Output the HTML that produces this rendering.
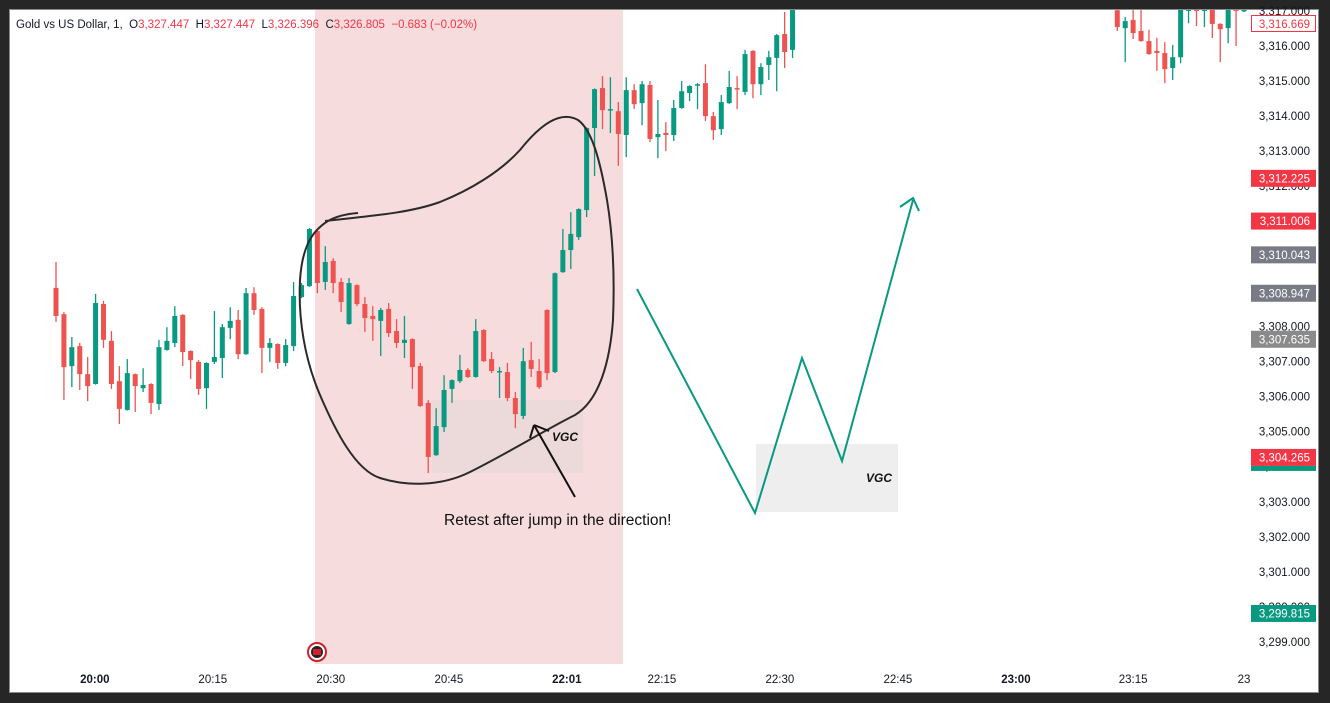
<!DOCTYPE html>
<html><head><meta charset="utf-8">
<style>
html,body{margin:0;padding:0;background:#262626;}
#wrap{position:relative;width:1330px;height:703px;background:#262626;overflow:hidden;font-family:"Liberation Sans",sans-serif;}
svg{position:absolute;left:0;top:0;}
</style></head>
<body>
<div id="wrap">
<svg id="chart" width="1330" height="703"></svg>
</div>
<script>
// ---- data ----
const seg1Open  = [3309.10,3308.35,3306.87,3307.44,3306.64,3306.36,3308.64,3307.59,3306.44,3305.62,3306.64,3306.24,3306.36,3305.79,3307.33,3307.53,3308.33,3307.30,3306.99,3306.24,3306.99,3307.10,3307.96,3308.19,3307.21,3308.95,3308.50,3307.39,3307.50,3306.96,3307.44,3308.84,3309.15,3310.72,3309.27,3309.87,3309.27,3308.07,3309.18,3308.64,3308.30,3308.16,3308.50,3307.87,3307.53,3307.64,3306.87,3305.82,3304.33,3305.13,3306.22,3306.44,3306.76,3306.56,3307.90,3307.07,3306.70,3306.70,3305.96,3305.45,3307.04,3306.73,3308.47,3306.70,3309.55,3310.18,3310.55,3311.32,3313.66,3314.80,3314.17,3314.14,3313.46,3314.74,3314.37,3314.89,3313.40,3313.52,3313.46,3314.23,3314.66,3314.89,3314.94,3314.00,3313.63,3314.37,3314.80,3314.69,3315.86,3314.91,3315.46,3315.66,3316.34,3315.89];
const seg1High  = [3309.84,3308.41,3307.70,3307.53,3307.13,3308.93,3308.73,3307.87,3306.87,3307.07,3306.66,3306.81,3306.38,3307.62,3307.98,3308.58,3308.35,3307.32,3307.04,3306.98,3308.44,3308.07,3308.55,3308.47,3309.10,3309.12,3308.55,3307.67,3307.52,3307.64,3309.27,3309.24,3310.81,3310.78,3310.29,3309.95,3309.38,3309.38,3309.20,3308.84,3308.58,3308.53,3308.67,3308.21,3308.30,3307.66,3306.96,3305.90,3305.67,3306.61,3306.49,3307.19,3306.81,3308.21,3307.92,3307.27,3306.84,3306.96,3306.13,3307.39,3307.56,3307.07,3308.49,3309.54,3310.78,3311.26,3311.37,3313.68,3314.79,3315.14,3315.11,3314.40,3315.11,3314.91,3315.00,3315.00,3314.46,3313.83,3314.46,3315.00,3314.88,3314.94,3315.48,3314.12,3314.60,3315.29,3315.14,3315.89,3315.88,3315.51,3315.86,3316.34,3316.97,3317.31];
const seg1Low   = [3308.13,3305.90,3306.27,3306.19,3305.87,3306.34,3307.39,3306.22,3305.22,3305.60,3305.56,3306.13,3305.50,3305.62,3307.31,3307.41,3306.87,3306.50,3306.05,3305.65,3306.93,3306.53,3307.64,3307.07,3307.19,3308.33,3306.67,3306.99,3306.79,3306.87,3307.30,3308.81,3309.13,3308.95,3309.04,3308.95,3308.41,3308.05,3308.58,3307.84,3307.59,3307.16,3307.70,3307.39,3307.10,3306.22,3305.71,3303.82,3304.31,3304.99,3305.82,3306.39,3306.53,3306.54,3306.99,3306.67,3305.96,3305.87,3305.10,3305.36,3306.56,3306.22,3306.47,3306.67,3309.53,3309.64,3310.47,3311.12,3312.29,3313.63,3313.52,3312.58,3312.83,3314.20,3313.74,3313.26,3312.80,3313.00,3313.29,3314.21,3314.43,3314.20,3313.86,3313.32,3313.46,3314.35,3314.20,3314.60,3314.51,3314.60,3315.03,3314.71,3315.37,3315.66];
const seg1Close = [3308.30,3306.84,3307.41,3306.64,3306.30,3308.67,3307.62,3306.36,3305.65,3306.67,3306.30,3306.33,3305.82,3307.41,3307.59,3308.30,3307.27,3307.04,3306.22,3306.96,3307.13,3307.98,3308.16,3307.21,3308.95,3308.47,3307.39,3307.53,3306.96,3307.47,3308.87,3309.18,3310.78,3309.24,3309.84,3309.24,3308.70,3309.24,3308.64,3308.24,3308.21,3308.47,3307.81,3307.53,3307.62,3306.84,3305.73,3304.28,3305.16,3306.19,3306.47,3306.76,3306.56,3307.87,3307.01,3306.73,3306.73,3305.96,3305.50,3307.01,3306.79,3306.27,3306.67,3309.52,3310.18,3310.64,3311.35,3313.66,3314.77,3314.17,3314.20,3313.49,3314.74,3314.34,3314.91,3313.35,3313.49,3313.46,3314.23,3314.71,3314.86,3314.91,3314.00,3313.60,3314.40,3314.83,3314.77,3315.77,3314.91,3315.40,3315.68,3316.31,3315.83,3317.17];
const seg2Start = 134;
const seg2Open  = [3317.02,3316.51,3316.74,3316.43,3316.14,3315.86,3315.80,3315.37,3315.68,3317.00,3317.05,3317.00,3317.10,3316.63,3316.51,3317.05,3317.00];
const seg2High  = [3317.30,3316.83,3317.30,3317.20,3316.46,3316.23,3316.11,3316.03,3317.20,3317.10,3317.10,3317.10,3317.30,3316.65,3317.30,3317.30,3317.06];
const seg2Low   = [3316.43,3315.54,3316.20,3316.12,3315.75,3315.29,3314.94,3315.03,3315.51,3316.65,3316.57,3316.54,3316.23,3315.54,3316.08,3316.00,3316.97];
const seg2Close = [3316.54,3316.71,3316.37,3316.14,3315.77,3315.80,3315.34,3315.68,3317.10,3317.05,3317.00,3317.05,3316.63,3316.48,3317.10,3317.00,3317.03];
const priceTicks = [3317,3316,3315,3314,3313,3312,3311,3310,3309,3308,3307,3306,3305,3304,3303,3302,3301,3300,3299];
const timeLabels = ["20:00","20:15","20:30","20:45","22:01","22:15","22:30","22:45","23:00","23:15","23"];
const timeIndex  = [4.9,19.8,34.7,49.6,64.5,76.5,91.4,106.3,121.2,136,150];
const timeBold   = [true,false,false,false,true,false,false,false,true,false,false];
const markerPrices = [3312.225,3311.006,3310.043,3308.947,3307.635,3304.265,3299.815];
const markerColors = ["#f23645","#f23645","#787b86","#787b86","#8a8a8a","#f23645","#089981"];

// ---- scales ----
const yOf = p => 46 + (3316 - p) * 35.06;
const xOf = i => 56 + i * 7.92;
const NS = "http://www.w3.org/2000/svg";
const svg = document.getElementById('chart');
function mk(tag, attrs, parent){const e=document.createElementNS(NS,tag);for(const k in attrs)e.setAttribute(k,attrs[k]);(parent||svg).appendChild(e);return e;}

const bg = mk('rect',{x:10,y:10,width:1308,height:682,fill:'#ffffff'});


mk('rect',{x:9.5,y:9.5,width:1309,height:683,fill:'none',stroke:'#8a8a8a','stroke-width':1});

const clipDef = mk('defs',{});
const cp = mk('clipPath',{id:'plotclip'},clipDef);
mk('rect',{x:10,y:10,width:1240,height:654},cp);

const hl = mk('rect',{x:315,y:10,width:308,height:654,fill:'#f7dcdd'});



const z1 = mk('rect',{x:432,y:400,width:151,height:73,fill:'#ecd9da'});


const z2 = mk('rect',{x:756,y:444,width:142,height:68,fill:'#eeeeee'});



const cg = mk('g',{'clip-path':'url(#plotclip)'});


function drawCandle(i,o,h,l,c){
  const x=xOf(i), up=c>=o, col=up?'#089981':'#ef5350';
  const g=mk('g',{},cg);
  
  
  mk('line',{x1:x,x2:x,y1:yOf(h),y2:yOf(l),stroke:col,'stroke-width':1.3},g);
  const top=yOf(Math.max(o,c)), bot=yOf(Math.min(o,c));
  mk('rect',{x:x-2.5,y:top,width:5,height:Math.max(1.5,bot-top),fill:col},g);
}
seg1Open.forEach((o,i)=>drawCandle(i,o,seg1High[i],seg1Low[i],seg1Close[i]));
seg2Open.forEach((o,i)=>drawCandle(seg2Start+i,o,seg2High[i],seg2Low[i],seg2Close[i]));

const blob = mk('path',{d:'M358,213 C345,214 335,217 328,221 C310,232 302,250 300,280 C298,320 305,360 320,395 C335,430 355,470 380,478 C405,486 440,487 470,472 C510,452 545,430 575,415 C600,400 610,360 613,320 C615,270 612,230 607,200 C600,160 592,130 578,120 C560,110 540,125 520,150 C500,172 470,190 440,202 C410,213 370,216 325,221',fill:'none',stroke:'#2a2a2a','stroke-width':2});


const arr = mk('path',{d:'M575,497 L534,425 M534,425 L530,438 M534,425 L549,431',fill:'none',stroke:'#111','stroke-width':2});


const zig = mk('polyline',{points:'637,289 755,513 802,358 842,461 913,200',fill:'none',stroke:'#089981','stroke-width':2});


const zh = mk('path',{d:'M900,207 L913,198 L919,211',fill:'none',stroke:'#089981','stroke-width':2});



function txt(x,y,s,attrs,name,inter){const t=mk('text',Object.assign({x:x,y:y},attrs));t.textContent=s;return t;}
txt(552,441,'VGC',{'font-size':12,'font-style':'italic','font-weight':'bold',fill:'#111'},'vgc-label-left','false');
txt(866,482,'VGC',{'font-size':12,'font-style':'italic','font-weight':'bold',fill:'#111'},'vgc-label-right','false');
txt(444,525,'Retest after jump in the direction!',{'font-size':15.5,fill:'#111'},'retest-note','false');

const ic = mk('g',{});


mk('circle',{cx:317,cy:652,r:9,fill:'#fff',stroke:'#d0202e','stroke-width':2},ic);
mk('circle',{cx:317,cy:652,r:6,fill:'#222'},ic);
mk('rect',{x:313,y:649,width:8,height:6,fill:'#d0202e'},ic);

const hd = mk('text',{x:16,y:28,'font-size':11.5,fill:'#131722'});


const parts=[['Gold vs US Dollar, 1,  O','#131722'],['3,327.447','#f23645'],['  H','#131722'],['3,327.447','#f23645'],['  L','#131722'],['3,326.396','#f23645'],['  C','#131722'],['3,326.805  \u22120.683 (\u22120.02%)','#f23645']];
parts.forEach(p=>{const s=mk('tspan',{fill:p[1]},hd);s.textContent=p[0];});
hd.setAttribute('style','white-space:pre');

priceTicks.forEach(p=>{
  txt(1310,yOf(p)+4,p.toLocaleString('en-US',{minimumFractionDigits:3}),{'font-size':11.5,fill:'#131722','text-anchor':'end'},'price-tick','false');
});
const cb = mk('g',{});


mk('rect',{x:1251.5,y:15.5,width:64,height:16,fill:'#fff',stroke:'#f23645'},cb);
const ct=mk('text',{x:1310,y:28,'font-size':11.5,fill:'#f23645','text-anchor':'end'},cb);ct.textContent='3,316.669';
markerPrices.forEach((p,i)=>{
  const g=mk('g',{});
  
  
  const y=yOf(p);
  mk('rect',{x:1251,y:y-8.5,width:65,height:17,fill:markerColors[i]},g);
  const t=mk('text',{x:1310,y:y+4,'font-size':11.5,fill:'#fff','text-anchor':'end'},g);t.textContent=p.toLocaleString('en-US',{minimumFractionDigits:3});
});
mk('rect',{x:1251,y:yOf(3304.265)+8.5,width:65,height:5,fill:'#089981'});

timeLabels.forEach((s,i)=>{
  txt(xOf(timeIndex[i]),683,s,{'font-size':11.5,fill:'#131722','text-anchor':'middle','font-weight':timeBold[i]?'bold':'normal'},'time-tick','false');
});
</script>
</body></html>
